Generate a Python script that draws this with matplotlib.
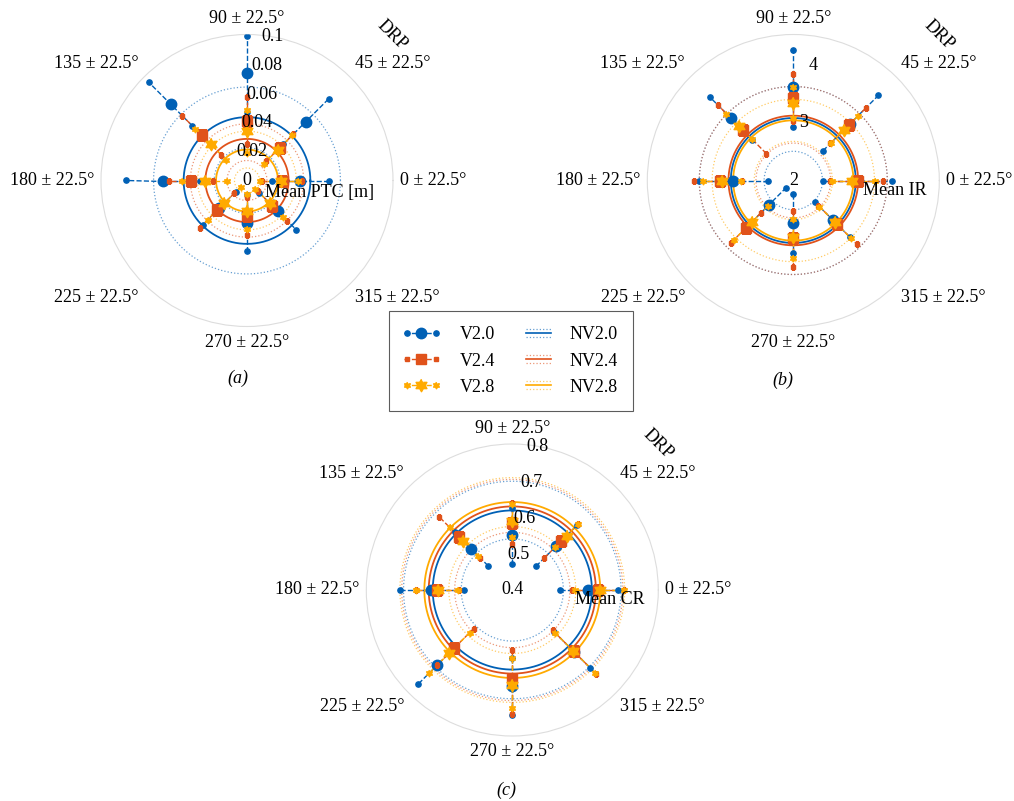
import numpy as np
import matplotlib
matplotlib.use('Agg')
from matplotlib import pyplot as plt
from matplotlib.lines import Line2D
from matplotlib.legend_handler import HandlerBase
from matplotlib.path import Path

plt.rcParams['font.family'] = ['Liberation Serif', 'DejaVu Serif']
plt.rcParams['font.size'] = 13

angles = [0, 45, 90, 135, 180, 225, 270, 315]
angle_labels = [f'{a} ± 22.5°' for a in angles]
v_names = ['V2.0', 'V2.4', 'V2.8']
nv_names = ['NV2.0', 'NV2.4', 'NV2.8']

# (a) mean PTC [m], per direction: lower / mean / upper
ptc_v20_lo = [0.017, 0.035, 0.047, 0.053, 0.032, 0.011, 0.010, 0.012]
ptc_v20 = [0.0365, 0.057, 0.0735, 0.074, 0.0575, 0.027, 0.029, 0.030]
ptc_v20_hi = [0.056, 0.079, 0.099, 0.095, 0.083, 0.043, 0.048, 0.0475]
ptc_v24_lo = [0.0105, 0.0186, 0.025, 0.025, 0.023, 0.0123, 0.011, 0.0106]
ptc_v24 = [0.024, 0.0318, 0.041, 0.0438, 0.0384, 0.029, 0.0242, 0.0247]
ptc_v24_hi = [0.0377, 0.045, 0.057, 0.0625, 0.0537, 0.0457, 0.0374, 0.0388]
ptc_v28_lo = [0.009, 0.016, 0.019, 0.020, 0.014, 0.006, 0.009, 0.008]
ptc_v28 = [0.0235, 0.030, 0.0336, 0.035, 0.0288, 0.022, 0.021, 0.022]
ptc_v28_hi = [0.035, 0.044, 0.0484, 0.050, 0.0445, 0.038, 0.033, 0.035]
ptc_nv_lo = [0.0225, 0.0137, 0.0086]
ptc_nv = [0.0434, 0.0285, 0.0212]
ptc_nv_hi = [0.064, 0.0388, 0.0338]

# (b) mean IR
ir_v20_lo = [2.51, 2.72, 2.92, 2.99, 2.43, 2.17, 2.23, 2.52]
ir_v20 = [3.11, 3.38, 3.60, 3.51, 3.03, 2.60, 2.73, 2.95]
ir_v20_hi = [3.69, 4.06, 4.23, 4.01, 3.61, 3.02, 3.24, 3.38]
ir_v24_lo = [2.63, 2.90, 3.02, 2.65, 2.87, 2.78, 2.53, 2.61]
ir_v24 = [3.10, 3.34, 3.41, 3.23, 3.25, 3.14, 2.99, 3.06]
ir_v24_hi = [3.53, 3.76, 3.82, 3.82, 3.70, 3.51, 3.48, 3.54]
ir_v28_lo = [2.66, 2.91, 3.07, 3.00, 2.89, 2.62, 2.66, 2.63]
ir_v28 = [3.00, 3.22, 3.33, 3.32, 3.22, 3.01, 2.97, 3.01]
ir_v28_hi = [3.40, 3.56, 3.60, 3.62, 3.55, 3.43, 3.33, 3.40]
ir_nv_lo = [2.50, 2.64, 2.67]
ir_nv = [3.07, 3.11, 3.03]
ir_nv_hi = [3.61, 3.61, 3.39]

# (c) mean CR
cr_v20_lo = [0.531, 0.492, 0.472, 0.494, 0.532, 0.628, 0.587, 0.563]
cr_v20 = [0.607, 0.571, 0.550, 0.559, 0.622, 0.692, 0.663, 0.640]
cr_v20_hi = [0.689, 0.650, 0.626, 0.623, 0.709, 0.764, 0.743, 0.702]
cr_v24_lo = [0.563, 0.524, 0.527, 0.525, 0.547, 0.550, 0.565, 0.556]
cr_v24 = [0.634, 0.589, 0.584, 0.606, 0.605, 0.625, 0.645, 0.638]
cr_v24_hi = [0.705, 0.654, 0.638, 0.684, 0.663, 0.690, 0.741, 0.724]
cr_v28_lo = [0.572, 0.565, 0.545, 0.533, 0.549, 0.565, 0.587, 0.565]
cr_v28 = [0.641, 0.611, 0.590, 0.590, 0.604, 0.644, 0.659, 0.637]
cr_v28_hi = [0.705, 0.655, 0.635, 0.643, 0.663, 0.723, 0.723, 0.720]
cr_nv_lo = [0.540, 0.558, 0.574]
cr_nv = [0.618, 0.629, 0.641]
cr_nv_hi = [0.698, 0.703, 0.708]

# matlab-like hexagram (fat six point star)
_a = np.deg2rad(90 + 30 * np.arange(12))
_r = np.where(np.arange(12) % 2 == 0, 1.0, 0.58)
hexagram = Path(np.column_stack([_r * np.cos(_a), _r * np.sin(_a)]), closed=False)

colors = ['#0060B5', '#E0521B', '#FFAA00']
markers = ['o', 's', hexagram]
big_ms = [7.5, 6.5, 9.0]
small_ms = [3.8, 3.2, 4.8]


def draw_panel(ax, rlim, ticks, tick_labels, v_data, nv_data, rlabel, rlabel_xy):
    th = np.deg2rad(angles)
    circ = np.linspace(0, 2 * np.pi, 500)
    ax.set_theta_zero_location('E')
    ax.set_ylim(*rlim)
    ax.set_xticks([])
    ax.set_yticks([])
    ax.grid(False)
    ax.spines['polar'].set_color('#DDDDDD')
    ax.spines['polar'].set_linewidth(0.8)

    for (lo, mid, hi), c in zip(zip(*nv_data), colors):
        ax.plot(circ, np.full_like(circ, mid), color=c, lw=1.3, zorder=2)
        for r in (lo, hi):
            ax.plot(circ, np.full_like(circ, r), color=c, lw=0.9, ls=':',
                    alpha=0.6, zorder=2)

    for (lo, mid, hi), c, m, bs, ss in zip(v_data, colors, markers, big_ms, small_ms):
        for k in range(len(angles)):
            ax.plot([th[k]] * 3, [lo[k], mid[k], hi[k]], ls='--', color=c,
                    lw=1.0, zorder=3)
        ax.plot(th, lo, ls='none', marker=m, ms=ss, color=c, zorder=4)
        ax.plot(th, hi, ls='none', marker=m, ms=ss, color=c, zorder=4)
        ax.plot(th, mid, ls='none', marker=m, ms=bs, color=c, zorder=4)

    # angle labels outside the circle
    aligns = {0: ('left', 'center'), 45: ('left', 'bottom'), 90: ('center', 'bottom'),
              135: ('right', 'bottom'), 180: ('right', 'center'), 225: ('right', 'top'),
              270: ('center', 'top'), 315: ('left', 'top')}
    f = 1.048
    for a, lab in zip(angles, angle_labels):
        ha, va = aligns[a]
        x = 0.5 + 0.5 * f * np.cos(np.deg2rad(a))
        y = 0.5 + 0.5 * f * np.sin(np.deg2rad(a))
        ax.text(x, y, lab, transform=ax.transAxes, ha=ha, va=va, fontsize=13)

    # radial tick labels along 80 degrees
    for t, lab in zip(ticks, tick_labels):
        ax.text(np.deg2rad(80), t, lab, ha='center', va='center', fontsize=13,
                zorder=5)

    ax.text(0.5 + 0.5 * 1.41 * np.cos(np.pi / 4), 0.5 + 0.5 * 1.41 * np.sin(np.pi / 4),
            'DRP', transform=ax.transAxes, rotation=-45, ha='center', va='center',
            fontsize=13)
    ax.text(rlabel_xy[0], rlabel_xy[1], rlabel, transform=ax.transAxes,
            ha='center', va='center', fontsize=13, zorder=6)


class VHandler(HandlerBase):
    def create_artists(self, legend, orig_handle, xdescent, ydescent, width,
                       height, fontsize, trans):
        c = orig_handle.get_color()
        i = colors.index(c)
        m = markers[i]
        y = height / 2 - ydescent
        x0, x1 = -xdescent, width - xdescent
        xm = (x0 + x1) / 2
        arts = [Line2D([x0, x1], [y, y], ls='--', color=c, lw=1.0)]
        for x, ms in ((x0 + 2, small_ms[i]), (xm, big_ms[i]), (x1 - 2, small_ms[i])):
            arts.append(Line2D([x], [y], ls='none', marker=m, ms=ms, color=c))
        for a in arts:
            a.set_transform(trans)
        return arts


class NVHandler(HandlerBase):
    def create_artists(self, legend, orig_handle, xdescent, ydescent, width,
                       height, fontsize, trans):
        c = orig_handle.get_color()
        y = height / 2 - ydescent
        x0 = -xdescent + 0.35 * width
        x1 = x0 + 0.75 * width
        arts = [Line2D([x0, x1], [y, y], color=c, lw=1.2),
                Line2D([x0, x1], [y + 3, y + 3], color=c, lw=0.9, ls=':', alpha=0.6),
                Line2D([x0, x1], [y - 3, y - 3], color=c, lw=0.9, ls=':', alpha=0.6)]
        for a in arts:
            a.set_transform(trans)
        return arts


fig = plt.figure(figsize=(10.14, 8.01), dpi=100)
W, H, R = 1014, 801, 146


def polar_at(cx, cy):
    return fig.add_axes([(cx - R) / W, (H - cy - R) / H, 2 * R / W, 2 * R / H],
                        projection='polar')


ax_a = polar_at(247, 180.5)
ax_b = polar_at(793.3, 180.5)
ax_c = polar_at(512.3, 590)

draw_panel(ax_a, (0, 0.1), [0, 0.02, 0.04, 0.06, 0.08, 0.1],
           ['0', '0.02', '0.04', '0.06', '0.08', '0.1'],
           [(ptc_v20_lo, ptc_v20, ptc_v20_hi), (ptc_v24_lo, ptc_v24, ptc_v24_hi),
            (ptc_v28_lo, ptc_v28, ptc_v28_hi)],
           (ptc_nv_lo, ptc_nv, ptc_nv_hi), 'Mean PTC [m]', (0.748, 0.459))
draw_panel(ax_b, (2, 4.5), [2, 3, 4], ['2', '3', '4'],
           [(ir_v20_lo, ir_v20, ir_v20_hi), (ir_v24_lo, ir_v24, ir_v24_hi),
            (ir_v28_lo, ir_v28, ir_v28_hi)],
           (ir_nv_lo, ir_nv, ir_nv_hi), 'Mean IR', (0.848, 0.467))
draw_panel(ax_c, (0.4, 0.8), [0.4, 0.5, 0.6, 0.7, 0.8],
           ['0.4', '0.5', '0.6', '0.7', '0.8'],
           [(cr_v20_lo, cr_v20, cr_v20_hi), (cr_v24_lo, cr_v24, cr_v24_hi),
            (cr_v28_lo, cr_v28, cr_v28_hi)],
           (cr_nv_lo, cr_nv, cr_nv_hi), 'Mean CR', (0.835, 0.466))

fig.text(238 / W, 1 - 378 / H, '(a)', style='italic', ha='center', va='center', fontsize=13)
fig.text(783 / W, 1 - 380 / H, '(b)', style='italic', ha='center', va='center', fontsize=13)
fig.text(506 / W, 1 - 790 / H, '(c)', style='italic', ha='center', va='center', fontsize=13)

v_handles = [Line2D([], [], color=c) for c in colors]
nv_handles = [Line2D([], [], color=c, ls=':') for c in colors]
hmap = {h: VHandler() for h in v_handles}
hmap.update({h: NVHandler() for h in nv_handles})
leg = fig.legend(v_handles + nv_handles, v_names + nv_names, ncol=2,
                 loc='center', bbox_to_anchor=(511 / W, 1 - 361 / H),
                 handler_map=hmap, handlelength=1.9, handletextpad=1.2,
                 columnspacing=1.0, labelspacing=0.5, borderpad=0.85,
                 fancybox=False, edgecolor='#333333', fontsize=13)
leg.get_frame().set_linewidth(0.8)

fig.savefig('out.png', dpi=100)
